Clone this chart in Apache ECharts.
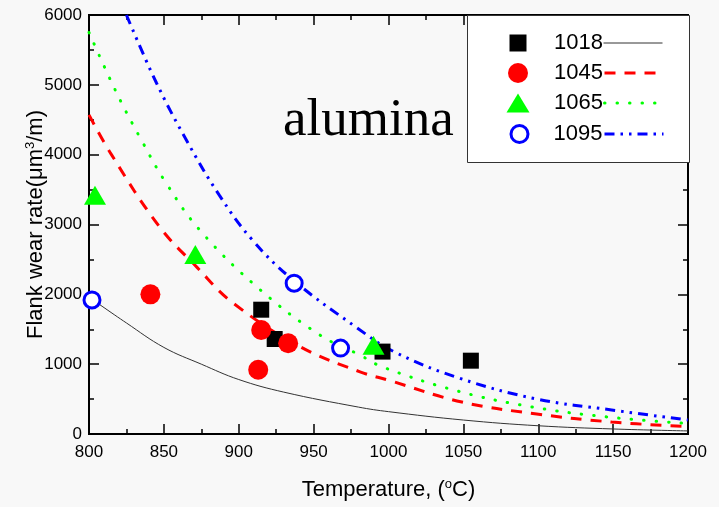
<!DOCTYPE html>
<html>
<head>
<meta charset="utf-8">
<script src="https://cdn.jsdelivr.net/npm/echarts@6/dist/echarts.min.js"></script>
<style>
  html, body { margin: 0; padding: 0; background: #f8f8f8; }
  #chart { width: 719px; height: 507px; }
</style>
</head>
<body>
<div id="chart"></div>
<script>
// Steel grades
const grades = ['1018', '1045', '1065', '1095'];

// Measured flank wear rate [temperature °C, rate]
const meas1018 = [[915, 1780], [924, 1360], [996, 1180], [1055, 1050]];
const meas1045 = [[841, 2000], [915, 1490], [933, 1300], [913, 920]];
const meas1065 = [[804, 3420], [871, 2570], [990, 1270]];
const meas1095 = [[802, 1920], [937, 2160], [968, 1230]];

// Model curves [temperature °C, rate]
const fit1018 = [[800, 1960], [825, 1590], [850, 1240], [875, 1000], [900, 780], [930, 600], [980, 385], [1000, 320], [1050, 200], [1100, 118], [1150, 72], [1200, 44]];
const fit1045 = [[800, 4570], [815, 4000], [847, 2970], [872, 2390], [896, 1880], [941, 1250], [981, 890], [1000, 770], [1049, 458], [1099, 287], [1149, 172], [1200, 105]];
const fit1065 = [[800, 5750], [819, 4860], [836, 4170], [851, 3610], [874, 2920], [913, 2090], [954, 1420], [981, 1130], [996, 960], [1046, 616], [1096, 387], [1146, 244], [1200, 150]];
const fit1095 = [[825, 6000], [845, 5030], [865, 4210], [887, 3420], [909, 2780], [936, 2210], [979, 1520], [1004, 1175], [1047, 802], [1099, 501], [1149, 344], [1200, 200]];

// Axis ranges [min, max, step]
const tempRange = [800, 1200, 50];
const rateRange = [0, 6000, 1000];

const measured = [meas1018, meas1045, meas1065, meas1095];
const fits = [fit1018, fit1045, fit1065, fit1095];

const font = 'Liberation Sans, Arial, sans-serif';

const markerStyles = [
  { symbol: 'rect', size: 16, item: { color: '#000000' }, icon: [17, 17], border: 0 },
  { symbol: 'circle', size: 20, item: { color: '#ff0000' }, icon: [20, 20], border: 0 },
  { symbol: 'triangle', size: [22, 19], item: { color: '#00ff00' }, icon: [23, 19], border: 0 },
  { symbol: 'circle', size: 16, item: { color: '#ffffff', borderColor: '#0000ff', borderWidth: 3 }, icon: [17, 17], border: 3 }
];

const curveStyles = [
  { color: '#333333', width: 1, type: 'solid', cap: 'butt' },
  { color: '#ff0000', width: 3, type: [11, 9], cap: 'butt' },
  { color: '#00ff00', width: 3, type: [0.5, 12], cap: 'round' },
  { color: '#0000ff', width: 3, type: [10, 6, 2.5, 6, 2.5, 6], cap: 'butt' }
];

const rowY = [43, 73, 103, 134];

const series = [];
grades.forEach((g, i) => {
  const ls = curveStyles[i];
  series.push({
    name: g + ' model',
    type: 'line',
    data: fits[i],
    smooth: 0.4,
    symbol: 'none',
    silent: true,
    z: 2,
    lineStyle: { color: ls.color, width: ls.width, type: ls.type, cap: ls.cap },
    itemStyle: { color: ls.color }
  });
});
grades.forEach((g, i) => {
  const ms = markerStyles[i];
  series.push({
    name: g,
    type: 'scatter',
    data: measured[i],
    symbol: ms.symbol,
    symbolSize: ms.size,
    itemStyle: Object.assign({ opacity: 1 }, ms.item),
    z: 3
  });
});

const legends = [];
grades.forEach((g, i) => {
  const ms = markerStyles[i];
  const w = ms.icon[0], h = ms.icon[1];
  const boxH = Math.max(h, 22);
  legends.push({
    data: [g],
    orient: 'vertical',
    left: 518 - w / 2,
    top: rowY[i] - boxH / 2,
    padding: 0,
    itemWidth: w,
    itemHeight: h,
    icon: ms.symbol,
    selectedMode: false,
    z: 12,
    itemStyle: ms.border ? { borderWidth: ms.border, borderColor: '#0000ff', color: '#ffffff' } : {},
    textStyle: { fontFamily: font, fontSize: 22, color: '#000', padding: [0, 0, 0, 36 - w / 2 - 5 - (ms.border ? 2 : 0)] }
  });
  const ls = curveStyles[i];
  legends.push({
    data: [g + ' model'],
    orient: 'vertical',
    left: 603,
    top: rowY[i] - 5,
    padding: 0,
    itemWidth: 59,
    itemHeight: 10,
    selectedMode: false,
    z: 12,
    formatter: () => '',
    itemStyle: { opacity: 0 },
    lineStyle: { width: ls.width, type: ls.type, color: ls.color, cap: ls.cap },
    textStyle: { fontSize: 10 }
  });
});

// Axis with black line and inward major/minor ticks
function frameAxis(extra, lineExtra) {
  return Object.assign({
    axisLine: Object.assign({ show: true, lineStyle: { color: '#000', width: 2 } }, lineExtra || {}),
    axisTick: { show: true, inside: true, length: 10, lineStyle: { color: '#000', width: 1.5 } },
    minorTick: { show: true, splitNumber: 2, length: 5, lineStyle: { color: '#000', width: 1.5 } },
    splitLine: { show: false }
  }, extra);
}

const nameRich = {
  t: { fontFamily: font, fontSize: 22, color: '#000', lineHeight: 24 },
  s: { fontFamily: font, fontSize: 13, color: '#000', lineHeight: 13, verticalAlign: 'top' }
};

const plainNumber = v => String(v);
const plotBox = { left: 89, right: 31, top: 15, bottom: 73, containLabel: false, outerBoundsMode: 'none' };

const option = {
  backgroundColor: '#f8f8f8',
  animation: false,
  grid: [
    // main plot; its border closes the frame on the top and right
    Object.assign({ show: true, backgroundColor: 'transparent', borderColor: '#000', borderWidth: 2 }, plotBox),
    // same box, carrying the tick marks of the top and right edges
    Object.assign({ show: false }, plotBox)
  ],
  xAxis: [
    frameAxis({
      type: 'value', gridIndex: 0,
      min: tempRange[0], max: tempRange[1], interval: tempRange[2],
      name: '{t|Temperature, (}{s|o}{t|C)}',
      nameLocation: 'middle', nameGap: 44, nameMoveOverlap: false,
      nameTextStyle: { rich: nameRich },
      axisLabel: { show: true, margin: 10, fontFamily: font, fontSize: 17, color: '#000', formatter: plainNumber }
    }),
    frameAxis({
      type: 'value', gridIndex: 1, position: 'top',
      min: tempRange[0], max: tempRange[1], interval: tempRange[2],
      axisLabel: { show: true, fontSize: 10, color: 'rgba(0,0,0,0)' }
    }, { onZero: false })
  ],
  yAxis: [
    frameAxis({
      type: 'value', gridIndex: 0,
      min: rateRange[0], max: rateRange[1], interval: rateRange[2],
      name: '{t|Flank wear rate(μm}{s|3}{t|/m)}',
      nameLocation: 'middle', nameGap: 41, nameMoveOverlap: false,
      nameTextStyle: { rich: nameRich },
      axisLabel: { show: true, margin: 7, fontFamily: font, fontSize: 17, color: '#000', formatter: plainNumber }
    }),
    frameAxis({
      type: 'value', gridIndex: 1, position: 'right',
      min: rateRange[0], max: rateRange[1], interval: rateRange[2],
      axisLabel: { show: true, fontSize: 10, color: 'rgba(0,0,0,0)' }
    }, { onZero: false })
  ],
  legend: legends,
  graphic: [
    {
      type: 'rect', z: 10, silent: true,
      shape: { x: 467.5, y: 15.5, width: 222, height: 147 },
      style: { fill: '#ffffff', stroke: '#333333', lineWidth: 1 }
    },
    {
      type: 'text', z: 10, silent: true,
      left: 283, top: 95,
      style: { text: 'alumina', fontFamily: 'Liberation Serif, Times New Roman, serif', fontSize: 53, fill: '#000' }
    }
  ],
  series: series
};

const chart = echarts.init(document.getElementById('chart'));
chart.setOption(option);
</script>
</body>
</html>
